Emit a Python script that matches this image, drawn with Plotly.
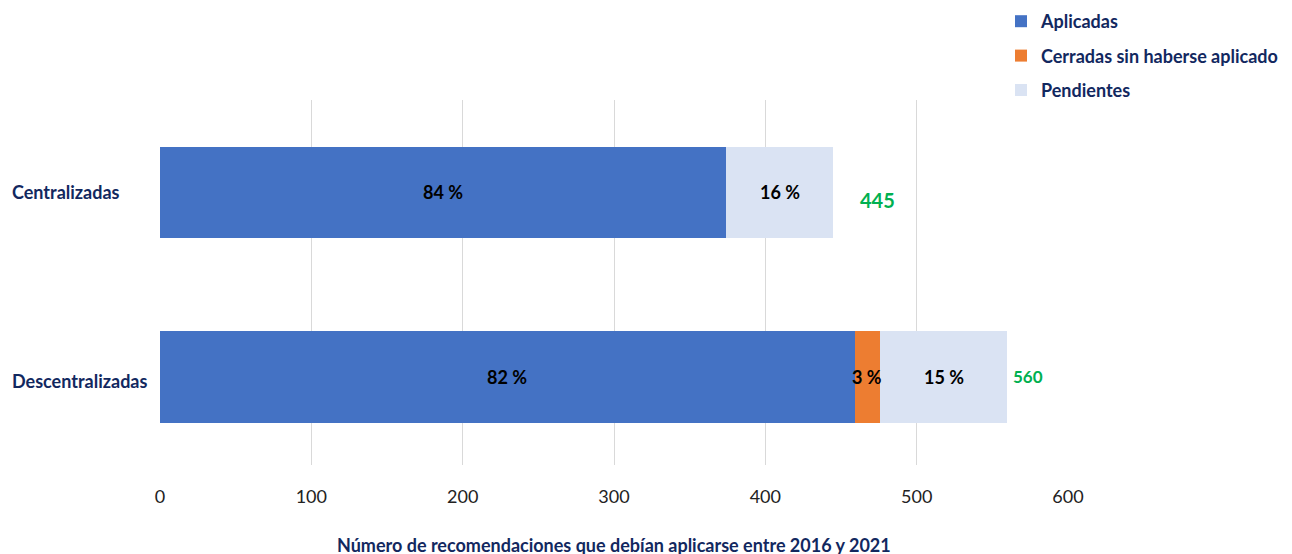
import plotly.graph_objects as go

categories = ["Centralizadas", "Descentralizadas"]
aplicadas = [374, 459]
cerradas = [0, 17]
pendientes = [71, 84]
totals = [445, 560]
pct_aplicadas = ["84 %", "82 %"]
pct_cerradas = ["", "3 %"]
pct_pendientes = ["16 %", "15 %"]
x_ticks = [0, 100, 200, 300, 400, 500, 600]

FONT = "Lato"
NAVY = "#12285F"

fig = go.Figure()
series = [
    ("Aplicadas", aplicadas, "#4472C4"),
    ("Cerradas sin haberse aplicado", cerradas, "#ED7D31"),
    ("Pendientes", pendientes, "#DAE3F3"),
]
for name, vals, col in series:
    fig.add_trace(go.Bar(
        y=categories, x=vals, name=name, orientation="h",
        marker=dict(color=col, line=dict(width=0)),
        legendgroup=name, width=0.495,
    ))

# percentage labels at segment centres
for i, cat in enumerate(categories):
    segs = [(aplicadas[i], pct_aplicadas[i]), (cerradas[i], pct_cerradas[i]), (pendientes[i], pct_pendientes[i])]
    start = 0
    for v, lab in segs:
        if lab:
            fig.add_annotation(x=start + v / 2, y=cat, text=f"<b>{lab}</b>", showarrow=False,
                               font=dict(family=FONT, size=18, color="black"))
        start += v
    fig.add_annotation(x=totals[i], y=cat, xshift=25 if i == 0 else 4, yshift=-8 if i == 0 else 0,
                       xanchor="left",
                       text=f"<b>{totals[i]}</b>", showarrow=False,
                       font=dict(family=FONT, size=20 if i == 0 else 17, color="#00B050"))
    fig.add_annotation(xref="paper", x=-150 / 908, y=cat, xanchor="left", yshift=0 if i == 0 else -4,
                       text=f"<b>{cat}</b>", showarrow=False,
                       font=dict(family=FONT, size=18, color=NAVY))

fig.add_annotation(xref="paper", yref="paper", x=0.5, y=-80 / 365, yanchor="middle",
                   text="<b>Número de recomendaciones que debían aplicarse entre 2016 y 2021</b>",
                   showarrow=False, font=dict(family=FONT, size=18, color=NAVY))

fig.update_layout(
    width=1292, height=554,
    margin=dict(l=152, r=232, t=92, b=97, autoexpand=False),
    barmode="stack",
    plot_bgcolor="white", paper_bgcolor="white",
    showlegend=True,
    legend=dict(x=(993 - 152) / 908, y=1 + 97 / 365, xanchor="left", yanchor="top",
                traceorder="grouped", tracegroupgap=8,
                font=dict(family=FONT, size=18, color=NAVY, weight="bold"),
                bgcolor="rgba(0,0,0,0)"),
    xaxis=dict(range=[0, 600], tickvals=x_ticks, showgrid=True, gridcolor="#D9D9D9",
               gridwidth=1, zeroline=False, showline=False,
               tickfont=dict(family=FONT, size=18, color="#222222"),
               ticklabelstandoff=19),
    yaxis=dict(categoryorder="array", categoryarray=categories,
               showticklabels=False, showgrid=False, zeroline=False, range=[1.477, -0.501]),
)

fig.write_html("out.html")
